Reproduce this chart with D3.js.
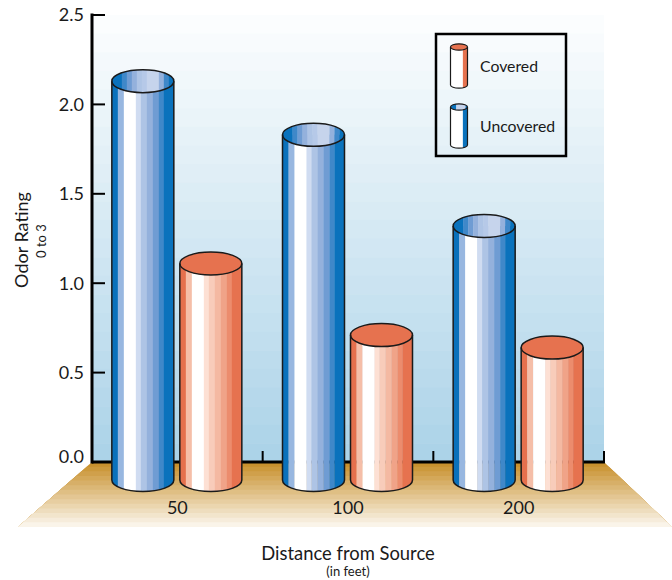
<!DOCTYPE html>
<html lang="en">

<head>
	<title>Odor Rating by Distance from Source</title>
	<meta charset="utf-8">
	<script src="https://d3js.org/d3.v7.min.js"></script>
	<style>
		html, body { margin: 0; padding: 0; background: #fff; }
		svg { display: block; }
		text { font-family: Lato, "Liberation Sans", sans-serif; fill: #1a1a1a; }
	</style>
</head>

<body>
	<div id="container"></div>
	<script>
		// Data
		const distances = ["50", "100", "200"];
		const seriesNames = ["Uncovered", "Covered"];
		const uncovered = [2.13, 1.83, 1.32];
		const covered = [1.11, 0.71, 0.64];
		const yTicks = [0, 0.5, 1, 1.5, 2, 2.5];

		// Chart dimensions
		const width = 672;
		const height = 580;
		const plot = { left: 92, right: 604, top: 15, bottom: 462 };
		const barWidth = 62;
		const ry = 11.5;
		const baseDrop = 18;
		const floor = { bottom: 527, left: 18, right: 672 };

		// Stripes: [width, colour], left to right
		const blueBody = [[6, "#0a71bb"], [6, "#98b7e0"], [12, "#ffffff"], [5, "#d0dcf1"], [6, "#aec4e5"], [6, "#94b1dc"], [6, "#6f9cd3"], [5, "#3f88c9"], [10, "#0a72bc"]];
		const blueTop = [[10, "#0a72bc"], [5, "#3f88c9"], [5, "#6f9cd3"], [5, "#94b1dc"], [5, "#aec4e5"], [5, "#b6c9e8"], [12, "#c6d4ec"], [5, "#94b1dc"], [5, "#3f88c9"], [5, "#0a72bc"]];
		const redBody = [[6, "#e5704d"], [6, "#f5bea8"], [12, "#ffffff"], [5, "#fde0d4"], [6, "#f8ccba"], [6, "#f4b9a2"], [6, "#f0a388"], [5, "#ec8c6d"], [10, "#e6724f"]];
		const redTop = "#e6724f";

		const svg = d3.select("#container")
			.append("svg")
			.attr("width", width)
			.attr("height", height)
			.attr("viewBox", `0 0 ${width} ${height}`);

		// Scales
		const xScale = d3.scaleBand()
			.domain(distances)
			.range([plot.left, plot.right]);

		const seriesScale = d3.scaleBand()
			.domain(seriesNames)
			.range([-68, 68]);

		const yScale = d3.scaleLinear()
			.domain([0, 2.5])
			.range([plot.bottom, plot.top]);

		// Wall: banded blue fade
		const wallBands = 24;
		const wallColor = d3.interpolateRgb("#fbfdfe", "#acd3e8");
		const wallH = (plot.bottom - plot.top) / wallBands;
		d3.range(wallBands).forEach(i => {
			svg.append("rect")
				.attr("x", plot.left)
				.attr("y", plot.top + i * wallH)
				.attr("width", plot.right - plot.left)
				.attr("height", wallH + 0.5)
				.attr("fill", wallColor(i / (wallBands - 1)));
		});

		// Floor: banded tan trapezoid, each band runs under the next to hide seams
		const floorBands = 14;
		const floorColor = d3.interpolateRgb("#c8912e", "#faf4e9");
		const floorStep = (floor.bottom - plot.bottom) / floorBands;
		const leftAt = y => plot.left + (floor.left - plot.left) * (y - plot.bottom) / (floor.bottom - plot.bottom);
		const rightAt = y => plot.right + (floor.right - plot.right) * (y - plot.bottom) / (floor.bottom - plot.bottom);
		d3.range(floorBands).forEach(i => {
			const y0 = plot.bottom + i * floorStep;
			svg.append("path")
				.attr("d", `M${leftAt(y0)},${y0}L${rightAt(y0)},${y0}L${floor.right},${floor.bottom}L${floor.left},${floor.bottom}Z`)
				.attr("fill", floorColor(i / (floorBands - 1)));
		});

		// Axes
		const axisColor = "#000";
		svg.append("line")
			.attr("x1", plot.left).attr("x2", plot.left)
			.attr("y1", plot.top - 1.5).attr("y2", plot.bottom + 1.5)
			.attr("stroke", axisColor).attr("stroke-width", 3);
		svg.append("line")
			.attr("x1", plot.left).attr("x2", plot.right + 1)
			.attr("y1", plot.bottom).attr("y2", plot.bottom)
			.attr("stroke", axisColor).attr("stroke-width", 3);

		svg.selectAll(".y-tick")
			.data(yTicks)
			.enter()
			.append("line")
			.attr("x1", plot.left)
			.attr("x2", plot.left + 13)
			.attr("y1", d => yScale(d))
			.attr("y2", d => yScale(d))
			.attr("stroke", axisColor)
			.attr("stroke-width", 2);

		svg.selectAll(".y-label")
			.data(yTicks)
			.enter()
			.append("text")
			.attr("x", 84)
			.attr("y", d => yScale(d) - (d === 0 ? 5 : 0))
			.attr("dy", "0.35em")
			.attr("text-anchor", "end")
			.attr("font-size", 18)
			.text(d => d.toFixed(1));

		// x ticks sit on the band edges
		svg.selectAll(".x-tick")
			.data(distances.slice(1).concat("end"))
			.enter()
			.append("line")
			.attr("x1", d => d === "end" ? plot.right : xScale(d))
			.attr("x2", d => d === "end" ? plot.right : xScale(d))
			.attr("y1", plot.bottom - 11)
			.attr("y2", plot.bottom)
			.attr("stroke", axisColor)
			.attr("stroke-width", 2);

		// Draws a cylinder from stripe lists, centred on cx, from yTop down to yBase
		const defs = svg.append("defs");
		let clipId = 0;

		function drawStripes(parent, stripes, x0, y, w, h, pathD) {
			const id = `clip-${clipId++}`;
			defs.append("clipPath").attr("id", id).append("path").attr("d", pathD);
			const scale = w / d3.sum(stripes, s => s[0]);
			const g = parent.append("g").attr("clip-path", `url(#${id})`);
			let x = x0;
			stripes.forEach(s => {
				g.append("rect")
					.attr("x", x)
					.attr("y", y)
					.attr("width", s[0] * scale + 0.3)
					.attr("height", h)
					.attr("fill", s[1]);
				x += s[0] * scale;
			});
		}

		function cylinder(parent, cx, yTop, yBase, w, r, body, top, strokeWidth) {
			const hw = w / 2;
			const sides = `M${cx - hw},${yTop}L${cx - hw},${yBase}A${hw},${r} 0 0 0 ${cx + hw},${yBase}L${cx + hw},${yTop}`;
			const topPath = `M${cx - hw},${yTop}A${hw},${r} 0 1 1 ${cx + hw},${yTop}A${hw},${r} 0 1 1 ${cx - hw},${yTop}Z`;
			drawStripes(parent, body, cx - hw, yTop - r, w, yBase - yTop + 2 * r + 2, sides + "Z");
			if (typeof top === "string") {
				parent.append("path").attr("d", topPath).attr("fill", top);
			} else {
				drawStripes(parent, top, cx - hw, yTop - r - 1, w, 2 * r + 2, topPath);
			}
			parent.append("path").attr("d", sides).attr("fill", "none").attr("stroke", "#1a1a1a").attr("stroke-width", strokeWidth);
			parent.append("path").attr("d", topPath).attr("fill", "none").attr("stroke", "#1a1a1a").attr("stroke-width", strokeWidth);
		}

		// Bars
		const bars = svg.append("g").attr("class", "bars");
		distances.forEach((d, i) => {
			const cx = xScale(d) + xScale.bandwidth() / 2 - 0.5;
			const yBase = yScale(0) + baseDrop;
			cylinder(bars, cx + seriesScale("Uncovered") + seriesScale.bandwidth() / 2, yScale(uncovered[i]), yBase, barWidth, ry, blueBody, blueTop, 1.5);
			cylinder(bars, cx + seriesScale("Covered") + seriesScale.bandwidth() / 2, yScale(covered[i]), yBase, barWidth, ry, redBody, redTop, 1.5);
		});

		// Category labels
		svg.selectAll(".x-label")
			.data(distances)
			.enter()
			.append("text")
			.attr("x", d => xScale(d) + xScale.bandwidth() / 2)
			.attr("y", 514)
			.attr("text-anchor", "middle")
			.attr("font-size", 18)
			.text(d => d);

		// Axis titles
		svg.append("text")
			.attr("x", 348)
			.attr("y", 560)
			.attr("text-anchor", "middle")
			.attr("font-size", 18.4)
			.text("Distance from Source");

		svg.append("text")
			.attr("x", 348)
			.attr("y", 576)
			.attr("text-anchor", "middle")
			.attr("font-size", 13)
			.text("(in feet)");

		svg.append("text")
			.attr("transform", "translate(28, 240) rotate(-90)")
			.attr("text-anchor", "middle")
			.attr("font-size", 18)
			.text("Odor Rating");

		svg.append("text")
			.attr("transform", "translate(46, 241) rotate(-90)")
			.attr("text-anchor", "middle")
			.attr("font-size", 13)
			.text("0 to 3");

		// Legend
		const legend = svg.append("g").attr("class", "legend");
		legend.append("rect")
			.attr("x", 436)
			.attr("y", 34)
			.attr("width", 130)
			.attr("height", 122)
			.attr("fill", "none")
			.attr("stroke", "#000")
			.attr("stroke-width", 2.5);

		const legendBlue = [[6, "#ffffff"], [2, "#ffffff"], [3, "#0a72bc"]];
		const legendRed = [[6, "#ffffff"], [2, "#ffffff"], [3, "#e6724f"]];
		const legendItems = ["Covered", "Uncovered"];
		cylinder(legend, 459, 47, 85, 17, 3.2, legendRed, redTop, 1.2);
		cylinder(legend, 459, 107, 145, 17, 3.2, legendBlue, [[3, "#0a72bc"], [5, "#c6d4ec"], [1, "#0a72bc"]], 1.2);

		legend.selectAll(".legend-label")
			.data(legendItems)
			.enter()
			.append("text")
			.attr("x", 480)
			.attr("y", (d, i) => 72 + i * 60)
			.attr("font-size", 15.8)
			.text(d => d);
	</script>
</body>

</html>
